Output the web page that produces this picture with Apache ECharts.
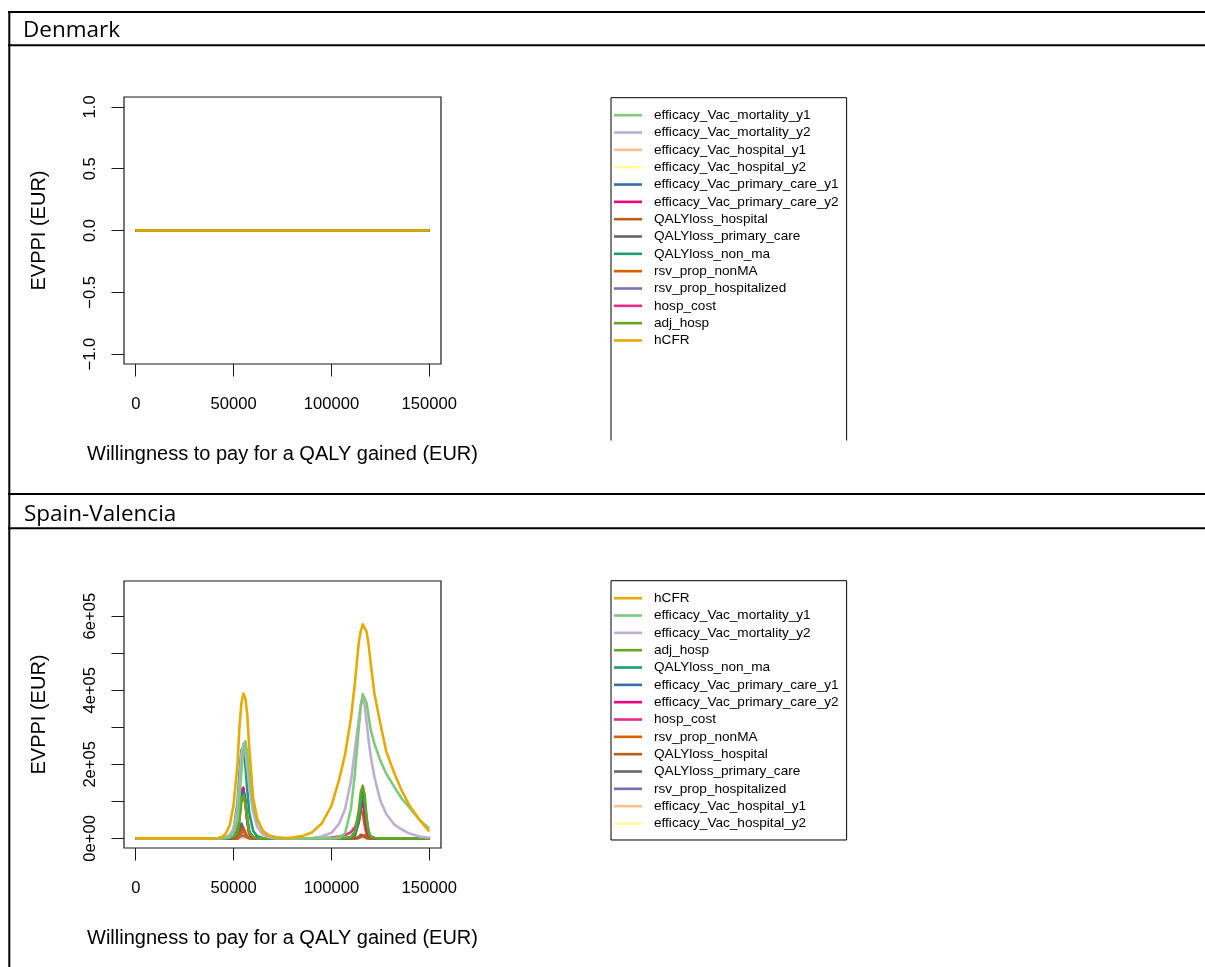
<!DOCTYPE html>
<html>
<head>
<meta charset="utf-8">
<script src="https://cdn.jsdelivr.net/npm/echarts@6/dist/echarts.min.js"></script>
<style>
  html, body { margin: 0; padding: 0; background: #fff; }
  #chart { width: 1205px; height: 967px; }
</style>
</head>
<body>
<div id="chart"></div>
<script>
// ---------------- DATA ----------------
const panelTitles = ['Denmark', 'Spain-Valencia'];
const xTitle = 'Willingness to pay for a QALY gained (EUR)';
const yTitle = 'EVPPI (EUR)';

const xTickValues = [0, 50000, 100000, 150000];
const dkYTickValues = [-1, -0.5, 0, 0.5, 1];
const esYTickValues = [0, 100000, 200000, 300000, 400000, 500000, 600000];
const esYLabelValues = [0, 200000, 400000, 600000];

// legend order of each panel
const dkParams = ['efficacy_Vac_mortality_y1', 'efficacy_Vac_mortality_y2', 'efficacy_Vac_hospital_y1',
  'efficacy_Vac_hospital_y2', 'efficacy_Vac_primary_care_y1', 'efficacy_Vac_primary_care_y2',
  'QALYloss_hospital', 'QALYloss_primary_care', 'QALYloss_non_ma', 'rsv_prop_nonMA',
  'rsv_prop_hospitalized', 'hosp_cost', 'adj_hosp', 'hCFR'];
const esParams = ['hCFR', 'efficacy_Vac_mortality_y1', 'efficacy_Vac_mortality_y2', 'adj_hosp',
  'QALYloss_non_ma', 'efficacy_Vac_primary_care_y1', 'efficacy_Vac_primary_care_y2', 'hosp_cost',
  'rsv_prop_nonMA', 'QALYloss_hospital', 'QALYloss_primary_care', 'rsv_prop_hospitalized',
  'efficacy_Vac_hospital_y1', 'efficacy_Vac_hospital_y2'];

// Denmark: EVPPI is zero for every parameter
const dkWtp = [0, 25000, 50000, 75000, 100000, 125000, 150000];
const dk_efficacy_Vac_mortality_y1 = [0, 0, 0, 0, 0, 0, 0];
const dk_efficacy_Vac_mortality_y2 = [0, 0, 0, 0, 0, 0, 0];
const dk_efficacy_Vac_hospital_y1 = [0, 0, 0, 0, 0, 0, 0];
const dk_efficacy_Vac_hospital_y2 = [0, 0, 0, 0, 0, 0, 0];
const dk_efficacy_Vac_primary_care_y1 = [0, 0, 0, 0, 0, 0, 0];
const dk_efficacy_Vac_primary_care_y2 = [0, 0, 0, 0, 0, 0, 0];
const dk_QALYloss_hospital = [0, 0, 0, 0, 0, 0, 0];
const dk_QALYloss_primary_care = [0, 0, 0, 0, 0, 0, 0];
const dk_QALYloss_non_ma = [0, 0, 0, 0, 0, 0, 0];
const dk_rsv_prop_nonMA = [0, 0, 0, 0, 0, 0, 0];
const dk_rsv_prop_hospitalized = [0, 0, 0, 0, 0, 0, 0];
const dk_hosp_cost = [0, 0, 0, 0, 0, 0, 0];
const dk_adj_hosp = [0, 0, 0, 0, 0, 0, 0];
const dk_hCFR = [0, 0, 0, 0, 0, 0, 0];

// Spain-Valencia: willingness-to-pay grid (EUR)
const esWtp = [
  0, 40000, 42000, 44000, 46000, 48000, 50000, 52000,
  53000, 54000, 55000, 56000, 57000, 58000, 60000, 62000,
  65000, 68000, 72000, 76000, 80000, 85000, 90000, 95000,
  100000, 104000, 107000, 110000, 112000, 114000, 115000, 116000,
  117000, 118000, 119000, 120000, 122000, 125000, 128000, 132000,
  136000, 140000, 145000, 150000];

const es_hCFR = [
  0, 0, 1000, 4000, 13000, 35000, 90000, 200000,
  300000, 365000, 391000, 378000, 335000, 245000, 110000, 55000,
  19000, 8000, 3000, 1000, 2000, 6000, 16000, 40000,
  88000, 160000, 228000, 325000, 420000, 530000, 560000, 578000,
  568000, 558000, 523000, 476000, 390000, 310000, 235000, 178000,
  128000, 88000, 50000, 19000];
const es_efficacy_Vac_mortality_y1 = [
  0, 0, 0, 0, 1000, 4000, 15000, 50000,
  110000, 180000, 235000, 262000, 230000, 175000, 95000, 50000,
  20000, 8000, 2000, 0, 0, 0, 0, 0,
  0, 2000, 14000, 80000, 175000, 300000, 355000, 390000,
  388000, 365000, 330000, 295000, 255000, 210000, 175000, 140000,
  107000, 82000, 50000, 27000];
const es_efficacy_Vac_mortality_y2 = [
  0, 0, 0, 1000, 3000, 8000, 25000, 80000,
  150000, 225000, 256000, 235000, 190000, 140000, 70000, 32000,
  10000, 3000, 0, 0, 0, 0, 1000, 5000,
  15000, 40000, 80000, 155000, 240000, 322000, 362000, 380000,
  358000, 312000, 265000, 225000, 165000, 102000, 66000, 38000,
  24000, 13000, 5000, 1500];
const es_adj_hosp = [
  0, 0, 0, 0, 0, 1000, 4000, 15000,
  50000, 98000, 117000, 95000, 50000, 15000, 3000, 0,
  0, 0, 0, 0, 0, 0, 0, 0,
  0, 0, 1000, 4000, 18000, 75000, 125000, 142000,
  118000, 55000, 18000, 5000, 1000, 0, 0, 0,
  0, 0, 0, 0];
const es_QALYloss_non_ma = [
  0, 0, 0, 1000, 3000, 8000, 25000, 95000,
  175000, 238000, 246000, 200000, 130000, 70000, 20000, 6000,
  1000, 0, 0, 0, 0, 0, 0, 0,
  0, 0, 0, 1000, 10000, 50000, 90000, 118000,
  100000, 50000, 18000, 6000, 1000, 0, 0, 0,
  0, 0, 0, 0];
const es_efficacy_Vac_primary_care_y1 = [
  0, 0, 0, 0, 0, 0, 2000, 15000,
  55000, 110000, 128000, 105000, 55000, 18000, 3000, 0,
  0, 0, 0, 0, 0, 0, 0, 0,
  0, 0, 0, 2000, 12000, 55000, 100000, 125000,
  98000, 45000, 14000, 3000, 0, 0, 0, 0,
  0, 0, 0, 0];
const es_efficacy_Vac_primary_care_y2 = [
  0, 0, 0, 0, 0, 0, 2000, 18000,
  65000, 128000, 137000, 100000, 45000, 12000, 2000, 0,
  0, 0, 0, 0, 0, 0, 0, 0,
  0, 0, 0, 2000, 8000, 45000, 95000, 108000,
  70000, 25000, 6000, 1000, 0, 0, 0, 0,
  0, 0, 0, 0];
const es_hosp_cost = [
  0, 0, 0, 0, 0, 1000, 4000, 22000,
  62000, 112000, 126000, 95000, 48000, 16000, 4000, 1000,
  0, 0, 0, 0, 0, 0, 0, 1000,
  2000, 5000, 9000, 17000, 30000, 55000, 80000, 95000,
  72000, 35000, 12000, 4000, 1000, 0, 0, 0,
  0, 0, 0, 0];
const es_rsv_prop_nonMA = [
  0, 0, 0, 0, 0, 0, 0, 0,
  4000, 14000, 20000, 12000, 4000, 1000, 0, 0,
  0, 0, 0, 0, 0, 0, 0, 0,
  0, 0, 0, 2000, 10000, 45000, 77000, 68000,
  35000, 10000, 2000, 0, 0, 0, 0, 0,
  0, 0, 0, 0];
const es_QALYloss_hospital = [
  0, 0, 0, 0, 0, 0, 0, 0,
  5000, 18000, 28000, 16000, 5000, 1000, 0, 0,
  0, 0, 0, 0, 0, 0, 0, 0,
  0, 0, 0, 0, 0, 4000, 10000, 14000,
  8000, 2000, 0, 0, 0, 0, 0, 0,
  0, 0, 0, 0];
const es_QALYloss_primary_care = [
  0, 0, 0, 0, 0, 0, 0, 3000,
  16000, 40000, 36000, 14000, 3000, 0, 0, 0,
  0, 0, 0, 0, 0, 0, 0, 0,
  0, 0, 0, 0, 0, 2000, 5000, 8000,
  5000, 1000, 0, 0, 0, 0, 0, 0,
  0, 0, 0, 0];
const es_rsv_prop_hospitalized = [
  0, 0, 0, 0, 0, 0, 0, 0,
  3000, 8000, 11000, 6000, 2000, 0, 0, 0,
  0, 0, 0, 0, 0, 0, 0, 0,
  0, 0, 0, 0, 0, 2000, 5000, 8000,
  5000, 1000, 0, 0, 0, 0, 0, 0,
  0, 0, 0, 0];
const es_efficacy_Vac_hospital_y1 = [
  0, 0, 0, 0, 0, 0, 0, 0,
  0, 2000, 3000, 2000, 0, 0, 0, 0,
  0, 0, 0, 0, 0, 0, 0, 0,
  0, 0, 0, 0, 0, 0, 2000, 3000,
  2000, 0, 0, 0, 0, 0, 0, 0,
  0, 0, 0, 0];
const es_efficacy_Vac_hospital_y2 = [
  0, 0, 0, 0, 0, 0, 0, 0,
  0, 1000, 2000, 1000, 0, 0, 0, 0,
  0, 0, 0, 0, 0, 0, 0, 0,
  0, 0, 0, 0, 0, 0, 0, 2000,
  0, 0, 0, 0, 0, 0, 0, 0,
  0, 0, 0, 0];

// ---------------- STYLE ----------------
const paramColors = {
  efficacy_Vac_mortality_y1: '#7FC97F', efficacy_Vac_mortality_y2: '#BEAED4',
  efficacy_Vac_hospital_y1: '#FDC086', efficacy_Vac_hospital_y2: '#FFFF99',
  efficacy_Vac_primary_care_y1: '#386CB0', efficacy_Vac_primary_care_y2: '#F0027F',
  QALYloss_hospital: '#BF5B17', QALYloss_primary_care: '#666666', QALYloss_non_ma: '#1B9E77',
  rsv_prop_nonMA: '#D95F02', rsv_prop_hospitalized: '#7570B3', hosp_cost: '#E7298A',
  adj_hosp: '#66A61E', hCFR: '#E6AB02'
};
const dkValues = {
  efficacy_Vac_mortality_y1: dk_efficacy_Vac_mortality_y1, efficacy_Vac_mortality_y2: dk_efficacy_Vac_mortality_y2,
  efficacy_Vac_hospital_y1: dk_efficacy_Vac_hospital_y1, efficacy_Vac_hospital_y2: dk_efficacy_Vac_hospital_y2,
  efficacy_Vac_primary_care_y1: dk_efficacy_Vac_primary_care_y1, efficacy_Vac_primary_care_y2: dk_efficacy_Vac_primary_care_y2,
  QALYloss_hospital: dk_QALYloss_hospital, QALYloss_primary_care: dk_QALYloss_primary_care,
  QALYloss_non_ma: dk_QALYloss_non_ma, rsv_prop_nonMA: dk_rsv_prop_nonMA,
  rsv_prop_hospitalized: dk_rsv_prop_hospitalized, hosp_cost: dk_hosp_cost,
  adj_hosp: dk_adj_hosp, hCFR: dk_hCFR
};
const esValues = {
  efficacy_Vac_mortality_y1: es_efficacy_Vac_mortality_y1, efficacy_Vac_mortality_y2: es_efficacy_Vac_mortality_y2,
  efficacy_Vac_hospital_y1: es_efficacy_Vac_hospital_y1, efficacy_Vac_hospital_y2: es_efficacy_Vac_hospital_y2,
  efficacy_Vac_primary_care_y1: es_efficacy_Vac_primary_care_y1, efficacy_Vac_primary_care_y2: es_efficacy_Vac_primary_care_y2,
  QALYloss_hospital: es_QALYloss_hospital, QALYloss_primary_care: es_QALYloss_primary_care,
  QALYloss_non_ma: es_QALYloss_non_ma, rsv_prop_nonMA: es_rsv_prop_nonMA,
  rsv_prop_hospitalized: es_rsv_prop_hospitalized, hosp_cost: es_hosp_cost,
  adj_hosp: es_adj_hosp, hCFR: es_hCFR
};

const FONT = '"Liberation Sans", Arial, Helvetica, sans-serif';
const INK = '#1a1a1a';

function mkSeries(name, xs, ys, idx) {
  return {
    type: 'line', name: name, xAxisIndex: idx, yAxisIndex: idx,
    data: xs.map((x, i) => [x, ys[i]]),
    showSymbol: false, symbol: 'none', smooth: false, clip: true,
    lineStyle: { width: 2.6, color: paramColors[name], join: 'round' },
    itemStyle: { color: paramColors[name] },
    emphasis: { disabled: true }, silent: true
  };
}

const series = [];
dkParams.forEach(p => series.push(mkSeries(p, dkWtp, dkValues[p], 0)));
esParams.slice().reverse().forEach(p => series.push(mkSeries(p, esWtp, esValues[p], 1)));

function xAxisCfg(idx) {
  return {
    type: 'value', gridIndex: idx, position: 'bottom', min: -6000, max: 156000,
    axisLine: { show: false, onZero: false }, splitLine: { show: false },
    axisTick: { show: true, length: 12.5, inside: false, customValues: xTickValues,
      lineStyle: { color: INK, width: 1 } },
    axisLabel: { customValues: xTickValues, margin: 32, fontSize: 16.6, fontFamily: FONT,
      color: '#000', formatter: v => String(v) },
    name: xTitle, nameLocation: 'middle', nameGap: 80,
    nameTextStyle: { fontSize: 20, fontFamily: FONT, color: '#000' }
  };
}
function yAxisCfg(idx, min, max, ticks, labels, fmt) {
  return {
    type: 'value', gridIndex: idx, position: 'left', min: min, max: max,
    axisLine: { show: false, onZero: false }, splitLine: { show: false },
    axisTick: { show: true, length: 12.5, inside: false, customValues: ticks, lineStyle: { color: INK, width: 1 } },
    axisLabel: { customValues: labels, rotate: 90, margin: 25, fontSize: 16.6, fontFamily: FONT,
      color: '#000', formatter: fmt },
    name: yTitle, nameLocation: 'middle', nameRotate: 90, nameGap: 75,
    nameTextStyle: { fontSize: 20, fontFamily: FONT, color: '#000' }
  };
}

function legendCfg(names, top, padBottom) {
  return {
    data: names, orient: 'vertical', left: 611, top: top,
    padding: [10.5, 8, padBottom, 3], itemGap: 3.33,
    icon: 'rect', itemWidth: 28, itemHeight: 2.6,
    selectedMode: false, borderColor: '#000', borderWidth: 1, backgroundColor: '#fff',
    textStyle: { fontFamily: FONT, fontSize: 13.6, color: '#000', lineHeight: 14, padding: [0, 0, 0, 7] }
  };
}

const lineStyleTable = { stroke: '#000', lineWidth: 2 };
const option = {
  animation: false,
  backgroundColor: '#fff',
  grid: [
    { left: 124, top: 97, width: 317, height: 267, show: true, borderColor: INK, borderWidth: 1.2, backgroundColor: 'transparent', containLabel: false },
    { left: 124, top: 581, width: 317, height: 267, show: true, borderColor: INK, borderWidth: 1.2, backgroundColor: 'transparent', containLabel: false }
  ],
  xAxis: [xAxisCfg(0), xAxisCfg(1)],
  yAxis: [
    yAxisCfg(0, -1.08, 1.08, dkYTickValues, dkYTickValues, v => v.toFixed(1).replace('-', '\u2212')),
    yAxisCfg(1, -26000, 695000, esYTickValues, esYLabelValues, v => v === 0 ? '0e+00' : (v / 100000) + 'e+05')
  ],
  legend: [legendCfg(dkParams, 97.7, 120), legendCfg(esParams, 580.7, 9.5)],
  series: series,
  graphic: [
    { type: 'rect', z: 100, shape: { x: 600, y: 440.5, width: 260, height: 52 }, style: { fill: '#fff' }, silent: true },
    { type: 'line', z: 101, shape: { x1: 8, y1: 12, x2: 1205, y2: 12 }, style: lineStyleTable, silent: true },
    { type: 'line', z: 101, shape: { x1: 8, y1: 45.3, x2: 1205, y2: 45.3 }, style: lineStyleTable, silent: true },
    { type: 'line', z: 101, shape: { x1: 8, y1: 494, x2: 1205, y2: 494 }, style: lineStyleTable, silent: true },
    { type: 'line', z: 101, shape: { x1: 8, y1: 528.3, x2: 1205, y2: 528.3 }, style: lineStyleTable, silent: true },
    { type: 'line', z: 101, shape: { x1: 9.3, y1: 11, x2: 9.3, y2: 967 }, style: lineStyleTable, silent: true },
    { type: 'text', z: 101, x: 23, y: 31, style: { text: panelTitles[0], font: '22.5px "Open Sans"', fill: '#000', align: 'left', verticalAlign: 'middle' }, silent: true },
    { type: 'text', z: 101, x: 24, y: 514.5, style: { text: panelTitles[1], font: '22.5px "Open Sans"', fill: '#000', align: 'left', verticalAlign: 'middle' }, silent: true }
  ]
};

const chart = echarts.init(document.getElementById('chart'), null, { renderer: 'canvas' });
chart.setOption(option);
</script>
</body>
</html>
